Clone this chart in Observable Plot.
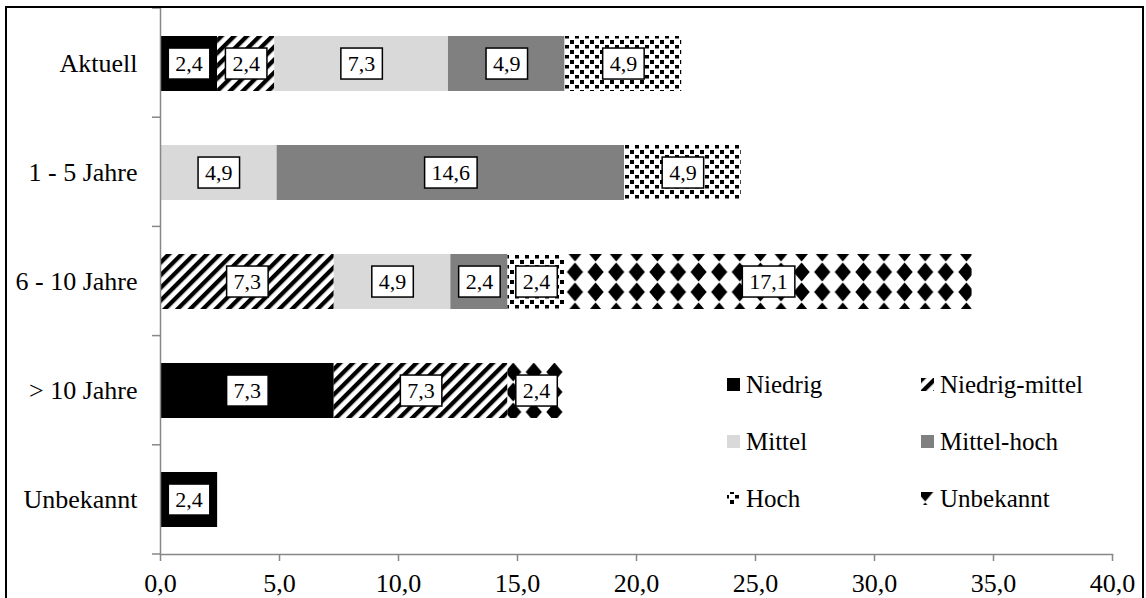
<!DOCTYPE html>
<html>
<head>
<meta charset="utf-8">
<script src="https://cdn.jsdelivr.net/npm/d3@7"></script>
<script src="https://cdn.jsdelivr.net/npm/@observablehq/plot@0.6"></script>
<style>
  html, body { margin: 0; padding: 0; background: #fff; }
  #chart { position: relative; width: 1146px; height: 598px; }
</style>
</head>
<body>
<svg width="0" height="0" style="position:absolute">
  <defs>
    <pattern id="pat-stripes" patternUnits="userSpaceOnUse" width="9" height="9" patternTransform="rotate(45)">
      <rect width="9" height="9" fill="#fff"/>
      <rect width="4.3" height="9" fill="#000"/>
    </pattern>
    <pattern id="pat-dots" patternUnits="userSpaceOnUse" width="10" height="10">
      <rect width="10" height="10" fill="#fff"/>
      <rect x="0" y="0" width="4" height="4" fill="#000"/>
      <rect x="5" y="5" width="4" height="3.5" fill="#000"/>
    </pattern>
    <pattern id="pat-diamonds" patternUnits="userSpaceOnUse" width="20.6" height="20" patternTransform="translate(8.5,2)">
      <rect width="20.6" height="20" fill="#fff"/>
      <path d="M10.3,0.6 L18.4,10 L10.3,19.4 L2.2,10 Z" fill="#000"/>
    </pattern>
  </defs>
</svg>
<div id="chart"></div>
<script>
// ---- data ----
const categories = ["Aktuell", "1 - 5 Jahre", "6 - 10 Jahre", "> 10 Jahre", "Unbekannt"];
const seriesNames = ["Niedrig", "Niedrig-mittel", "Mittel", "Mittel-hoch", "Hoch", "Unbekannt"];
const niedrig       = [2.4, 0,    0,    7.3, 2.4];
const niedrigMittel = [2.4, 0,    7.3,  7.3, 0];
const mittel        = [7.3, 4.9,  4.9,  0,   0];
const mittelHoch    = [4.9, 14.6, 2.4,  0,   0];
const hoch          = [4.9, 4.9,  2.4,  0,   0];
const unbekannt     = [0,   0,    17.1, 2.4, 0];
const xTicks = [0, 5, 10, 15, 20, 25, 30, 35, 40];

const seriesValues = [niedrig, niedrigMittel, mittel, mittelHoch, hoch, unbekannt];
const fills = {
  "Niedrig": "#000000",
  "Niedrig-mittel": "url(#pat-stripes)",
  "Mittel": "#d9d9d9",
  "Mittel-hoch": "#808080",
  "Hoch": "url(#pat-dots)",
  "Unbekannt": "url(#pat-diamonds)"
};

const data = [];
categories.forEach((c, i) => {
  seriesNames.forEach((s, j) => {
    const v = seriesValues[j][i];
    if (v > 0) data.push({category: c, series: s, value: v});
  });
});

const fmt = v => v.toFixed(1).replace(".", ",");
const axisGray = "#878787";
const serif = "'Liberation Serif', 'Times New Roman', Times, serif";

const plot = Plot.plot({
  width: 1146,
  height: 598,
  marginLeft: 160,
  marginRight: 34,
  marginTop: 8,
  marginBottom: 44,
  style: {fontFamily: serif, fontSize: "26px", color: "#000", background: "transparent", overflow: "visible"},
  x: {domain: [0, 40], label: null},
  y: {domain: categories, paddingInner: 0.5, paddingOuter: 0.25, label: null},
  color: {type: "identity"},
  marks: [
    Plot.barX(data, Plot.stackX({y: "category", x: "value", z: "series", fill: d => fills[d.series]})),
    Plot.ruleX([0], {stroke: axisGray, strokeWidth: 1.5}),
    Plot.frame({anchor: "bottom", stroke: axisGray, strokeWidth: 1.5}),
    Plot.axisX({ticks: xTicks, tickFormat: fmt, tickSize: 7, tickPadding: 12.5, stroke: axisGray, strokeWidth: 1.5, fill: "#000", fontSize: 26}),
    Plot.axisY({tickSize: 0, tickPadding: 23, fill: "#000", fontSize: 26}),
    Plot.text(data, Plot.stackX({y: "category", x: "value", z: "series", text: d => fmt(d.value), fill: "#000", fontSize: 22}))
  ]
});

document.getElementById("chart").appendChild(plot);
const svg = d3.select(plot);

// white boxes behind value labels
svg.selectAll("g[aria-label='text'] text").each(function () {
  const bb = this.getBBox();
  const cy = bb.y + bb.height / 2;
  const r = document.createElementNS("http://www.w3.org/2000/svg", "rect");
  r.setAttribute("x", bb.x - 7);
  r.setAttribute("y", cy - 15.5);
  r.setAttribute("width", bb.width + 14);
  r.setAttribute("height", 31);
  r.setAttribute("fill", "#fff");
  r.setAttribute("stroke", "#000");
  r.setAttribute("stroke-width", 1.5);
  const t = this.getAttribute("transform");
  if (t) r.setAttribute("transform", t);
  this.parentNode.insertBefore(r, this);
});

// category boundary ticks on the y axis
const ys = plot.scale("y");
const [r0, r1] = ys.range;
const nb = categories.length;
const stepPx = (r1 - r0) / nb;
const bt = svg.append("g");
for (let k = 0; k <= nb; k++) {
  const yy = r0 + k * stepPx;
  bt.append("line").attr("x1", 152).attr("x2", 160).attr("y1", yy).attr("y2", yy)
    .attr("stroke", axisGray).attr("stroke-width", 1.5);
}

// legend
const legend = svg.append("g")
  .attr("font-family", serif)
  .attr("font-size", 25)
  .attr("text-anchor", "start");
const colX = [727, 921];
const rowY = [385, 442, 499];
seriesNames.forEach((s, i) => {
  const x = colX[i % 2], y = rowY[Math.floor(i / 2)];
  legend.append("rect").attr("x", x).attr("y", y - 7).attr("width", 13).attr("height", 13).attr("fill", fills[s]);
  legend.append("text").attr("x", x + 19).attr("y", y + 8).attr("fill", "#000").attr("text-anchor", "start").text(s);
});

// outer frame
svg.append("rect").attr("x", 6).attr("y", 7).attr("width", 1137).attr("height", 620)
  .attr("fill", "none").attr("stroke", "#000").attr("stroke-width", 2);
</script>
</body>
</html>
